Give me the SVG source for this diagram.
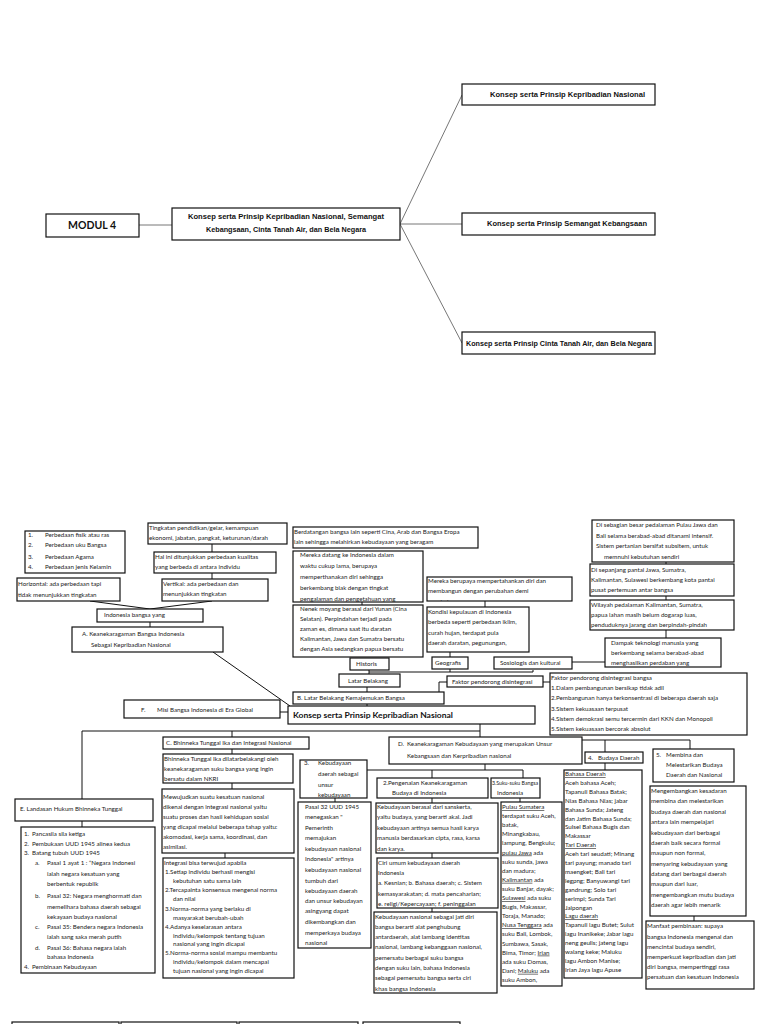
<svg xmlns="http://www.w3.org/2000/svg" width="768" height="1024" viewBox="0 0 768 1024">
<style>
.b{fill:#fff;stroke:#111;stroke-width:1.2}
.t{font-family:Lato,"Liberation Sans",sans-serif;font-size:6.2px;fill:#222}
.h{font-family:"Liberation Sans",Arial,sans-serif;font-weight:bold;font-size:7px;fill:#111}
.c{fill:none;stroke:#111;stroke-width:1}
.g{fill:none;stroke:#777;stroke-width:1}
.u{text-decoration:underline}
</style>
<defs>
<clipPath id="cp1"><rect x="427" y="577" width="145" height="24"/></clipPath>
</defs>
<rect width="768" height="1024" fill="#fff"/>

<g id="top-connectors">
<line class="g" x1="139" y1="225" x2="172" y2="225"/>
<line class="g" x1="400" y1="224" x2="462" y2="95"/>
<line class="g" x1="400" y1="224" x2="462" y2="224"/>
<line class="g" x1="400" y1="224" x2="462" y2="343"/>
</g>
<g id="modul4"><rect class="b" x="46" y="214" width="93" height="23"/><text x="92" y="229" text-anchor="middle" font-family="Lato,'Liberation Sans',sans-serif" font-size="10.5" font-weight="bold" fill="#111">MODUL 4</text></g>
<g id="konsep-utama"><rect class="b" x="172" y="208" width="228" height="32"/>
<text class="h" text-anchor="middle"><tspan x="286" y="219" textLength="196" lengthAdjust="spacingAndGlyphs">Konsep serta Prinsip Kepribadian Nasional, Semangat</tspan><tspan x="286" y="232" textLength="160" lengthAdjust="spacingAndGlyphs">Kebangsaan, Cinta Tanah Air, dan Bela Negara</tspan></text></g>
<g id="konsep-kepribadian"><rect class="b" x="462" y="84" width="193" height="21"/><text class="h" x="490" y="97" textLength="155" lengthAdjust="spacingAndGlyphs">Konsep serta Prinsip Kepribadian Nasional</text></g>
<g id="konsep-semangat"><rect class="b" x="462" y="213" width="193" height="22"/><text class="h" x="487" y="226" textLength="160" lengthAdjust="spacingAndGlyphs">Konsep serta Prinsip Semangat Kebangsaan</text></g>
<g id="konsep-cinta"><rect class="b" x="462" y="332" width="193" height="22"/><text class="h" x="466" y="346" textLength="186" lengthAdjust="spacingAndGlyphs">Konsep serta Prinsip Cinta Tanah Air, dan Bela Negara</text></g>

<g id="connectors">
<line class="c" x1="212" y1="544" x2="212" y2="552"/>
<line class="c" x1="212" y1="573" x2="212" y2="579"/>
<polyline class="c" points="90,601 150,609 212,601"/>
<line class="c" x1="150" y1="622" x2="150" y2="627"/>
<line class="c" x1="213" y1="652" x2="290" y2="706"/>
<line class="c" x1="280" y1="712" x2="288" y2="712"/>
<line class="c" x1="362" y1="602" x2="362" y2="605"/>
<line class="c" x1="485" y1="601" x2="485" y2="607"/>
<line class="c" x1="450" y1="652" x2="450" y2="657"/>
<polyline class="c" points="369,670 369,672 533,672 533,670"/>
<line class="c" x1="450" y1="669" x2="450" y2="672"/>
<line class="c" x1="369" y1="672" x2="369" y2="674"/>
<line class="c" x1="367" y1="687" x2="367" y2="692"/>
<polyline class="c" points="447,682 439,682 439,692"/>
<line class="c" x1="543" y1="682" x2="550" y2="682"/>
<line class="c" x1="367" y1="704" x2="367" y2="706"/>
<line class="c" x1="572" y1="662" x2="605" y2="662"/>
<line class="c" x1="666" y1="562" x2="666" y2="564"/>
<line class="c" x1="666" y1="596" x2="666" y2="600"/>
<line class="c" x1="666" y1="630" x2="666" y2="638"/>
<line class="c" x1="480" y1="724" x2="480" y2="737"/>
<polyline class="c" points="82,799 82,731 480,731"/>
<line class="c" x1="232" y1="731" x2="232" y2="737"/>
<line class="c" x1="232" y1="749" x2="232" y2="754"/>
<line class="c" x1="232" y1="783" x2="232" y2="789"/>
<line class="c" x1="225" y1="853" x2="225" y2="858"/>
<line class="c" x1="82" y1="821" x2="82" y2="827"/>
<line class="c" x1="485" y1="764" x2="485" y2="770"/>
<line class="c" x1="367" y1="770" x2="523" y2="770"/>
<line class="c" x1="432" y1="770" x2="432" y2="778"/>
<line class="c" x1="523" y1="770" x2="523" y2="778"/>
<line class="c" x1="335" y1="798" x2="335" y2="802"/>
<line class="c" x1="432" y1="798" x2="432" y2="803"/>
<line class="c" x1="520" y1="798" x2="520" y2="802"/>
<line class="c" x1="432" y1="853" x2="432" y2="858"/>
<line class="c" x1="432" y1="908" x2="432" y2="912"/>
<polyline class="c" points="582,740 690,740 690,749"/>
<line class="c" x1="605" y1="740" x2="605" y2="752"/>
<line class="c" x1="605" y1="763" x2="605" y2="770"/>
<line class="c" x1="694" y1="916" x2="694" y2="921"/>
</g>

<g id="perbedaan"><rect class="b" x="25" y="531" width="100" height="42"/>
<text class="t"><tspan x="28" y="537">1.</tspan><tspan x="45" y="537">Perbedaan fisik atau ras</tspan><tspan x="28" y="547">2.</tspan><tspan x="45" y="547">Perbedaan uku Bangsa</tspan><tspan x="28" y="559">3.</tspan><tspan x="45" y="559">Perbedaan Agama</tspan><tspan x="28" y="569">4.</tspan><tspan x="45" y="569">Perbedaan jenis Kelamin</tspan></text></g>
<g id="horizontal"><rect class="b" x="17" y="578" width="103" height="23"/>
<text class="t"><tspan x="18" y="586">Horizontal: ada perbedaan tapi</tspan><tspan x="18" y="597">tidak menunjukkan tingkatan</tspan></text></g>
<g id="tingkatan"><rect class="b" x="148" y="523" width="139" height="21"/>
<text class="t"><tspan x="149" y="530">Tingkatan pendidikan/gelar, kemampuan</tspan><tspan x="149" y="540">ekonomi, jabatan, pangkat, keturunan/darah</tspan></text></g>
<g id="hal-ini"><rect class="b" x="154" y="552" width="122" height="21"/>
<text class="t"><tspan x="155" y="559">Hal ini ditunjukkan perbedaan kualitas</tspan><tspan x="155" y="569">yang berbeda di antara individu</tspan></text></g>
<g id="vertikal"><rect class="b" x="162" y="579" width="106" height="22"/>
<text class="t"><tspan x="163" y="586">Vertikal: ada perbedaan dan</tspan><tspan x="163" y="596">menunjukkan tingkatan</tspan></text></g>
<g id="indonesia-bangsa"><rect class="b" x="97" y="609" width="106" height="13"/>
<text class="t" x="104" y="617">Indonesia bangsa yang</text></g>
<g id="a-keanekaragaman"><rect class="b" x="72" y="627" width="151" height="25"/>
<text class="t"><tspan x="82" y="636">A.  Keanekaragaman Bangsa Indonesia</tspan><tspan x="91" y="647">Sebagai Kepribadian Nasional</tspan></text></g>
<g id="f-misi"><rect class="b" x="124" y="700" width="156" height="18"/>
<text class="t"><tspan x="141" y="712">F.</tspan><tspan x="157" y="712">Misi Bangsa Indonesia di Era Global</tspan></text></g>

<g id="berdatangan"><rect class="b" x="293" y="527" width="185" height="21"/>
<text class="t"><tspan x="294" y="534">Berdatangan bangsa lain seperti Cina, Arab dan Bangsa Eropa</tspan><tspan x="294" y="544">lain sehingga melahirkan kebudayaan yang beragam</tspan></text></g>
<g id="mereka-datang"><rect class="b" x="293" y="551" width="130" height="51"/>
<text class="t"><tspan x="300" y="557">Mereka datang ke Indonesia dalam</tspan><tspan x="300" y="568">waktu cukup lama, berupaya</tspan><tspan x="300" y="579">memperthanakan diri sehingga</tspan><tspan x="300" y="590">berkembang biak dengan tingkat</tspan><tspan x="300" y="601">pengalaman dan pengetahuan yang</tspan></text></g>
<g id="nenek-moyang"><rect class="b" x="293" y="605" width="130" height="52"/>
<text class="t"><tspan x="300" y="611">Nenek moyang berasal dari Yunan (Cina</tspan><tspan x="300" y="621">Selatan). Perpindahan terjadi pada</tspan><tspan x="300" y="631">zaman es, dimana saat itu daratan</tspan><tspan x="300" y="641">Kalimantan, Jawa dan Sumatra bersatu</tspan><tspan x="300" y="651">dengan Asia sedangkan papua bersatu</tspan></text></g>
<g id="historis"><rect class="b" x="350" y="658" width="39" height="12"/><text class="t" x="356" y="666">Historis</text></g>
<g id="mereka-berupaya"><rect class="b" x="427" y="577" width="145" height="24"/>
<text class="t" clip-path="url(#cp1)"><tspan x="428" y="583">Mereka berupaya mempertahankan diri dan</tspan><tspan x="428" y="593">membangun dengan perubahan demi</tspan><tspan x="428" y="604">perubahan</tspan></text></g>
<g id="kondisi"><rect class="b" x="427" y="607" width="102" height="45"/>
<text class="t"><tspan x="428" y="614">Kondisi kepulauan di Indonesia</tspan><tspan x="428" y="624">berbeda seperti perbedaan iklim,</tspan><tspan x="428" y="635">curah hujan, terdapat pula</tspan><tspan x="428" y="645">daerah daratan, pegunungan,</tspan></text></g>
<g id="geografis"><rect class="b" x="432" y="657" width="36" height="12"/><text class="t" x="435" y="665">Geografis</text></g>
<g id="sosiologis"><rect class="b" x="494" y="657" width="78" height="12"/><text class="t" x="500" y="665">Sosiologis dan kultural</text></g>
<g id="latar-belakang"><rect class="b" x="339" y="674" width="61" height="13"/><text class="t" x="348" y="683">Latar Belakang</text></g>
<g id="faktor-pendorong"><rect class="b" x="447" y="676" width="96" height="11"/><text class="t" x="452" y="684">Faktor pendorong disintegrasi</text></g>
<g id="b-latar"><rect class="b" x="293" y="692" width="151" height="12"/><text class="t" x="297" y="700">B.  Latar Belakang Kemajemukan Bangsa</text></g>
<g id="konsep-kepribadian-nasional"><rect class="b" x="288" y="706" width="247" height="18"/>
<text x="293" y="718" font-family="Lato,'Liberation Sans',sans-serif" font-weight="bold" font-size="7.6" fill="#111" textLength="160" lengthAdjust="spacingAndGlyphs">Konsep serta Prinsip Kepribadian Nasional</text></g>

<g id="pedalaman-jawa"><rect class="b" x="592" y="520" width="142" height="42"/>
<text class="t"><tspan x="596" y="527">Di sebagian besar pedalaman Pulau Jawa dan</tspan><tspan x="596" y="538">Bali selama berabad-abad ditanami intensif.</tspan><tspan x="596" y="548">Sistem pertanian bersifat subsitem, untuk</tspan><tspan x="604" y="559">memnuhi kebutuhan sendiri</tspan></text></g>
<g id="pantai-jawa"><rect class="b" x="590" y="564" width="144" height="32"/>
<text class="t"><tspan x="591" y="572">Di sepanjang pantai Jawa, Sumatra,</tspan><tspan x="591" y="582">Kalimantan, Sulawesi berkembang kota pantai</tspan><tspan x="591" y="592">pusat pertemuan antar bangsa</tspan></text></g>
<g id="wilayah-pedalaman"><rect class="b" x="590" y="600" width="144" height="30"/>
<text class="t"><tspan x="591" y="607">Wilayah pedalaman Kalimantan, Sumatra,</tspan><tspan x="591" y="617">papua lahan masih belum dogarap luas,</tspan><tspan x="591" y="627">penduduknya jarang dan berpindah-pindah</tspan></text></g>
<g id="dampak"><rect class="b" x="605" y="638" width="116" height="29"/>
<text class="t"><tspan x="611" y="645">Dampak teknologi manusia yang</tspan><tspan x="611" y="655">berkembang selama berabad-abad</tspan><tspan x="611" y="665">menghasilkan perdaban yang</tspan></text></g>
<g id="faktor-list"><rect class="b" x="550" y="673" width="197" height="62"/>
<text class="t"><tspan x="551" y="680">Faktor pendorong disintegrasi bangsa</tspan><tspan x="551" y="690">1.Dalam pembangunan bersikap tidak adil</tspan><tspan x="551" y="700">2.Pembangunan hanya terkonsentrasi di beberapa daerah saja</tspan><tspan x="551" y="711">3.Sistem kekuasaan terpusat</tspan><tspan x="551" y="721">4.Sistem demokrasi semu tercermin dari KKN dan Monopoli</tspan><tspan x="551" y="731">5.Sistem kekuasaan bercorak absolut</tspan></text></g>

<g id="c-bhinneka"><rect class="b" x="163" y="737" width="146" height="12"/><text class="t" x="166" y="745">C.  Bhinneka Tunggal Ika dan Integrasi Nasional</text></g>
<g id="bhinneka-latar"><rect class="b" x="163" y="754" width="130" height="29"/>
<text class="t"><tspan x="164" y="761">Bhinneka Tunggal Ika dilatarbelakangi oleh</tspan><tspan x="164" y="771">keanekaragaman suku bangsa yang ingin</tspan><tspan x="164" y="781">bersatu dalam NKRI</tspan></text></g>
<g id="mewujudkan"><rect class="b" x="162" y="789" width="132" height="64"/>
<text class="t"><tspan x="163" y="799">Mewujudkan suatu kesatuan nasional</tspan><tspan x="163" y="809">dikenal dengan integrasi nasional yaitu</tspan><tspan x="163" y="819">suatu proses dan hasil kehidupan sosial</tspan><tspan x="163" y="829">yang dicapai melalui beberapa tahap yaitu:</tspan><tspan x="163" y="839">akomodasi, kerja sama, koordinasi, dan</tspan><tspan x="163" y="849">asimilasi.</tspan></text></g>
<g id="integrasi"><rect class="b" x="163" y="858" width="131" height="120"/>
<text class="t"><tspan x="164" y="865">Integrasi bisa terwujud apabila</tspan><tspan x="165" y="874">1.Setiap individu berhasil mengisi</tspan><tspan x="173" y="883">kebutuhan satu sama lain</tspan><tspan x="165" y="892">2.Tercapainta konsensus mengenai norma</tspan><tspan x="173" y="901">dan nilai</tspan><tspan x="165" y="911">3.Norma-norma yang berlaku di</tspan><tspan x="173" y="920">masyarakat berubah-ubah</tspan><tspan x="165" y="929">4.Adanya keselarasan antara</tspan><tspan x="173" y="938">individu/kelompok tentang tujuan</tspan><tspan x="173" y="946">nasional yang ingin dicapai</tspan><tspan x="165" y="955">5.Norma-norma sosial mampu membantu</tspan><tspan x="173" y="964">individu/kelompok dalam mencapai</tspan><tspan x="173" y="973">tujuan nasional yang ingin dicapai</tspan></text></g>
<g id="e-landasan"><rect class="b" x="15" y="799" width="138" height="22"/><text class="t" x="20" y="811">E.  Landasan Hukum Bhinneka Tunggal</text></g>
<g id="landasan-list"><rect class="b" x="21" y="827" width="134" height="146"/>
<text class="t"><tspan x="24" y="836">1.</tspan><tspan x="32" y="836">Pancasila sila ketiga</tspan><tspan x="24" y="846">2.</tspan><tspan x="32" y="846">Pembukaan UUD 1945 alinea kedua</tspan><tspan x="24" y="855">3.</tspan><tspan x="32" y="855">Batang tubuh UUD 1945</tspan><tspan x="35" y="865">a.</tspan><tspan x="47" y="865">Pasal 1 ayat 1 : “Negara Indonesi</tspan><tspan x="47" y="876">ialah negara kesatuan yang</tspan><tspan x="47" y="886">berbentuk republik</tspan><tspan x="35" y="898">b.</tspan><tspan x="47" y="898">Pasal 32: Negara menghormati dan</tspan><tspan x="47" y="909">memelihara bahasa daerah sebagai</tspan><tspan x="47" y="919">kekayaan budaya nasional</tspan><tspan x="35" y="929">c.</tspan><tspan x="47" y="929">Pasal 35: Bendera negara Indonesia</tspan><tspan x="47" y="939">ialah sang saka merah putih</tspan><tspan x="35" y="950">d.</tspan><tspan x="47" y="950">Pasal 36: Bahasa negara ialah</tspan><tspan x="47" y="959">bahasa Indonesia</tspan><tspan x="24" y="969">4.</tspan><tspan x="32" y="969">Pembinaan Kebudayaan</tspan></text></g>

<g id="d-keanekaragaman"><rect class="b" x="389" y="737" width="193" height="27"/>
<text class="t"><tspan x="398" y="746">D.</tspan><tspan x="407" y="746">Keanekaragaman Kebudayaan yang merupakan Unsur</tspan><tspan x="407" y="758">Kebangsaan dan Kerpribadian nasional</tspan></text></g>
<g id="kebudayaan-daerah"><rect class="b" x="300" y="760" width="67" height="38"/>
<text class="t"><tspan x="304" y="765">3.</tspan><tspan x="318" y="765">Kebudayaan</tspan><tspan x="318" y="776">daerah sebagai</tspan><tspan x="318" y="787">unsur</tspan><tspan x="318" y="797">kebudayaan</tspan></text></g>
<g id="pasal-32"><rect class="b" x="298" y="802" width="73" height="146"/>
<text class="t"><tspan x="305" y="809">Pasal 32 UUD 1945</tspan><tspan x="305" y="819">menegaskan "</tspan><tspan x="305" y="830">Pemerinth</tspan><tspan x="305" y="840">memajukan</tspan><tspan x="305" y="851">kebudayaan nasional</tspan><tspan x="305" y="861">Indonesia" artinya</tspan><tspan x="305" y="872">kebudayaan nasional</tspan><tspan x="305" y="883">tumbuh dari</tspan><tspan x="305" y="893">kebudayaan daerah</tspan><tspan x="305" y="903">dan unsur kebudayan</tspan><tspan x="305" y="913">asingyang dapat</tspan><tspan x="305" y="924">dikembangkan dan</tspan><tspan x="305" y="935">memperkaya budaya</tspan><tspan x="305" y="945">nasional</tspan></text></g>
<g id="pengenalan"><rect class="b" x="377" y="778" width="111" height="20"/>
<text class="t"><tspan x="383" y="785">2.Pengenalan Keanekaragaman</tspan><tspan x="392" y="795">Budaya di Indonesia</tspan></text></g>
<g id="suku-bangsa"><rect class="b" x="491" y="778" width="49" height="20"/>
<text class="t"><tspan x="492" y="785" textLength="46" lengthAdjust="spacingAndGlyphs">3.Suku-suku Bangsa</tspan><tspan x="497" y="795">Indonesia</tspan></text></g>
<g id="kebudayaan-berasal"><rect class="b" x="376" y="803" width="122" height="50"/>
<text class="t"><tspan x="377" y="809">Kebudayaan berasal dari sanskerta,</tspan><tspan x="377" y="819">yaitu budaya, yang berarti akal. Jadi</tspan><tspan x="377" y="830">kebudayaan artinya semua hasil karya</tspan><tspan x="377" y="840">manusia berdasarkan cipta, rasa, karsa</tspan><tspan x="377" y="851">dan karya.</tspan></text></g>
<g id="ciri-umum"><rect class="b" x="377" y="858" width="121" height="50"/>
<text class="t"><tspan x="378" y="865">Ciri umum kebudayaan daerah</tspan><tspan x="378" y="875">Indonesia</tspan><tspan x="378" y="885">a.    Kesnian; b. Bahasa daerah; c. Sistem</tspan><tspan x="378" y="896">kemasyarakatan; d. mata pencaharian;</tspan><tspan x="378" y="906">e. religi/Kepercayaan; f. peninggalan</tspan></text></g>
<g id="kebudayaan-nasional"><rect class="b" x="374" y="912" width="123" height="81"/>
<text class="t"><tspan x="375" y="919">Kebudayaan nasional sebagai jati diri</tspan><tspan x="375" y="929">bangsa berarti alat penghubung</tspan><tspan x="375" y="939">antardaerah, alat lambang identitas</tspan><tspan x="375" y="949">nasional, lambang kebanggaan nasional,</tspan><tspan x="375" y="960">pemersatu berbagai suku bangsa</tspan><tspan x="375" y="970">dengan suku lain, bahasa Indonesia</tspan><tspan x="375" y="980">sebagai pemersatu bangsa serta ciri</tspan><tspan x="375" y="991">khas bangsa Indonesia</tspan></text></g>
<g id="pulau-sumatera"><rect class="b" x="501" y="802" width="61" height="184"/>
<text class="t"><tspan x="502" y="809" class="u">Pulau Sumatera</tspan><tspan x="502" y="818">terdapat suku Aceh,</tspan><tspan x="502" y="827">batak,</tspan><tspan x="502" y="836">Minangkabau,</tspan><tspan x="502" y="845">lampung, Bengkulu;</tspan><tspan x="502" y="854.5" class="u">pulau Jawa</tspan><tspan> ada</tspan><tspan x="502" y="863.6">suku sunda, jawa</tspan><tspan x="502" y="872.7">dan madura;</tspan><tspan x="502" y="881.8" class="u">Kalimantan</tspan><tspan> ada</tspan><tspan x="502" y="890.9">suku Banjar, dayak;</tspan><tspan x="502" y="900" class="u">Sulawesi</tspan><tspan> ada suku</tspan><tspan x="502" y="909">Bugis, Makassar,</tspan><tspan x="502" y="918">Toraja, Manado;</tspan><tspan x="502" y="927" class="u">Nusa Tenggara</tspan><tspan> ada</tspan><tspan x="502" y="936.4">suku Bali, Lombok,</tspan><tspan x="502" y="945.5">Sumbawa, Sasak,</tspan><tspan x="502" y="954.6">Bima, Timor; </tspan><tspan class="u">Irian</tspan><tspan x="502" y="963.7">ada suku Domas,</tspan><tspan x="502" y="972.8">Dani; </tspan><tspan class="u">Maluku</tspan><tspan> ada</tspan><tspan x="502" y="981.9">suku Ambon,</tspan></text></g>
<g id="budaya-daerah"><rect class="b" x="585" y="752" width="58" height="11"/>
<text class="t"><tspan x="588" y="760">4.</tspan><tspan x="598" y="760">Budaya Daerah</tspan></text></g>
<g id="bahasa-daerah"><rect class="b" x="564" y="770" width="78" height="208"/>
<text class="t"><tspan x="565" y="776" class="u">Bahasa Daerah</tspan><tspan x="565" y="785">Aceh bahasa Aceh;</tspan><tspan x="565" y="794">Tapanuli Bahasa Batak;</tspan><tspan x="565" y="803">Nias Bahasa Nias; jabar</tspan><tspan x="565" y="812">Bahasa Sunda; Jateng</tspan><tspan x="565" y="820.5">dan Jatim Bahasa Sunda;</tspan><tspan x="565" y="829.4">Sulsel Bahasa Bugis dan</tspan><tspan x="565" y="838.3">Makassar</tspan><tspan x="565" y="847.2" class="u">Tari Daerah</tspan><tspan x="565" y="856.1">Aceh tari seudati; Minang</tspan><tspan x="565" y="865">tari payung; manado tari</tspan><tspan x="565" y="873.9">maengket; Bali tari</tspan><tspan x="565" y="882.8">legpng; Banyuwangi tari</tspan><tspan x="565" y="891.7">gandrung; Solo tari</tspan><tspan x="565" y="900.6">serimpi; Sunda Tari</tspan><tspan x="565" y="909.5">Jaipongan</tspan><tspan x="565" y="918.4" class="u">Lagu daerah</tspan><tspan x="565" y="927.3">Tapanuli lagu Butet; Sulut</tspan><tspan x="565" y="936.2">lagu Inanikeke; Jabar lagu</tspan><tspan x="565" y="945.1">neng geulis; jateng lagu</tspan><tspan x="565" y="954">walang keke; Maluku</tspan><tspan x="565" y="962.9">lagu Ambon Manise;</tspan><tspan x="565" y="971.8">Irian Jaya lagu Apuse</tspan></text></g>
<g id="membina"><rect class="b" x="653" y="749" width="81" height="33"/>
<text class="t"><tspan x="656" y="757">5.</tspan><tspan x="666" y="757">Membina dan</tspan><tspan x="666" y="767">Melestarikan Budaya</tspan><tspan x="666" y="777">Daerah dan Nasional</tspan></text></g>
<g id="mengembangkan"><rect class="b" x="650" y="786" width="96" height="130"/>
<text class="t"><tspan x="651" y="793">Mengembangkan kesadaran</tspan><tspan x="651" y="803">membina dan melestarikan</tspan><tspan x="651" y="814">budaya daerah dan nasional</tspan><tspan x="651" y="824">antara lain mempelajari</tspan><tspan x="651" y="835">kebudayaan dari berbagai</tspan><tspan x="651" y="845">daerah baik secara formal</tspan><tspan x="651" y="855">maupun non formal,</tspan><tspan x="651" y="866">menyaring kebudayaan yang</tspan><tspan x="651" y="876">datang dari berbagai daerah</tspan><tspan x="651" y="886">maupun dari luar,</tspan><tspan x="651" y="897">mengembangkan mutu budaya</tspan><tspan x="651" y="907">daerah agar lebih menarik</tspan></text></g>
<g id="manfaat"><rect class="b" x="646" y="921" width="108" height="68"/>
<text class="t"><tspan x="647" y="928">Manfaat pembinaan: supaya</tspan><tspan x="647" y="939">bangsa Indonesia mengenal dan</tspan><tspan x="647" y="949">mencintai budaya sendiri,</tspan><tspan x="647" y="959">memperkuat kepribadian dan jati</tspan><tspan x="647" y="969">diri bangsa, mempertinggi rasa</tspan><tspan x="647" y="979">persatuan dan kesatuan Indonesia</tspan></text></g>

<g id="next-boxes">
<rect class="b" x="12" y="1022" width="107" height="10"/>
<rect class="b" x="121" y="1022" width="116" height="10"/>
<rect class="b" x="239" y="1022" width="119" height="10"/>
<rect class="b" x="363" y="1022" width="97" height="10"/>
</g>
</svg>
